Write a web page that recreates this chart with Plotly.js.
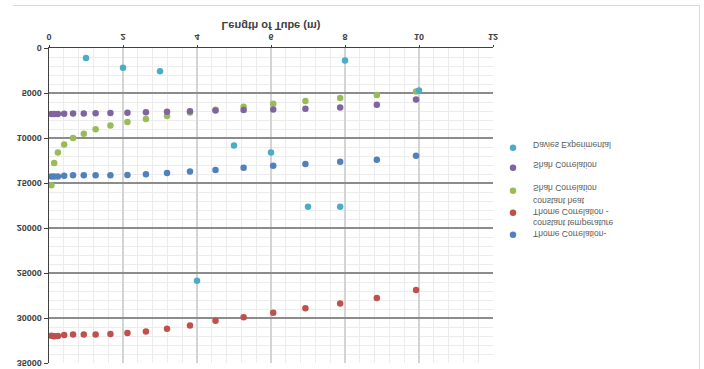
<!DOCTYPE html>
<html>
<head>
<meta charset="utf-8">
<script src="https://cdn.plot.ly/plotly-3.0.1.min.js"></script>
<style>
  html, body { margin: 0; padding: 0; background: #ffffff; }
  #wrap { position: relative; width: 704px; height: 369px; overflow: hidden; transform: scaleY(-1); transform-origin: 50% 50%; }
  #chart { position: absolute; left: 0; top: 0; width: 704px; height: 369px; }
  #frame { position: absolute; left: 13px; top: -2px; width: 686px; height: 365px;
           border-right: 1px solid #d9d9d9; border-bottom: 1px solid #d9d9d9; pointer-events: none; }
</style>
</head>
<body>
<div id="wrap">
  <div id="chart"></div>
  <div id="frame"></div>
</div>
<script>
// Correlation x positions (m)
const corrLength = [0.065, 0.14, 0.24, 0.41, 0.65, 0.94, 1.26, 1.66, 2.12, 2.62, 3.19, 3.81, 4.5, 5.26, 6.06, 6.93, 7.87, 8.86, 9.92];

// Series values
const thomeConstTemp = [14270, 14270, 14270, 14190, 14150, 14150, 14150, 14150, 14110, 14040, 13890, 13710, 13560, 13300, 13080, 12890, 12630, 12410, 11970];
const thomeConstHeat = [31970, 32040, 32000, 31890, 31820, 31820, 31820, 31780, 31670, 31490, 31190, 30820, 30300, 29930, 29410, 28930, 28380, 27780, 26890];
const shahGreen = [15260, 12780, 11600, 10710, 10000, 9520, 9040, 8600, 8230, 7890, 7560, 7180, 6860, 6520, 6190, 5890, 5560, 5230, 4820];
const shahPurple = [7340, 7340, 7320, 7300, 7290, 7270, 7240, 7220, 7190, 7150, 7090, 7040, 6950, 6900, 6820, 6740, 6600, 6300, 5710];

const daviesLength = [1, 2, 3, 4, 5, 6, 7, 7.87, 8, 10];
const daviesValues = [1110, 2190, 2590, 25860, 10820, 11600, 17630, 17630, 1380, 4710];

// Labels
const seriesNames = [
  "Thome Correlation-<br>constant temperature",
  "Thome Correlation -<br>constant heat",
  "Shah Correlation",
  "Shah Correlation",
  "Davies Experimental"
];
const seriesColors = ["#4F81BD", "#C0504D", "#9BBB59", "#8064A2", "#4BACC6"];
const xTitle = "Length of Tube (m)";

const legendIds = ["legend", "legend2", "legend3", "legend4", "legend5"];
const legendTops = [0.631, 0.561, 0.491, 0.418, 0.3546];

const ys = [thomeConstTemp, thomeConstHeat, shahGreen, shahPurple];
const traces = ys.map((y, i) => ({
  type: "scatter", mode: "markers", x: corrLength, y: y, name: seriesNames[i],
  legend: legendIds[i],
  marker: { color: seriesColors[i], size: 6.5 }
}));
traces.push({
  type: "scatter", mode: "markers", x: daviesLength, y: daviesValues, name: seriesNames[4],
  legend: legendIds[4],
  marker: { color: seriesColors[4], size: 6.5 }
});

const layout = {
  width: 704, height: 369,
  margin: { l: 49, r: 211, t: 6, b: 48 },
  paper_bgcolor: "rgba(0,0,0,0)",
  plot_bgcolor: "#ffffff",
  font: { family: "Liberation Sans, Arial, sans-serif", color: "#404040" },
  showlegend: true,
  xaxis: {
    range: [0, 12], dtick: 2, tick0: 0,
    showline: true, linecolor: "#404040", linewidth: 1.5,
    ticks: "outside", ticklen: 2, tickcolor: "#404040",
    showgrid: true, gridcolor: "#d4d4d4", gridwidth: 1.5,
    minor: { dtick: 0.4, showgrid: true, gridcolor: "#ececec", gridwidth: 1 },
    zeroline: false,
    tickfont: { size: 9, weight: "bold", color: "#404040" },
    title: { text: xTitle, font: { size: 11, weight: "bold", color: "#404040" }, standoff: 1 }
  },
  yaxis: {
    range: [0, 35000], dtick: 5000, tick0: 0, tickformat: "d",
    showline: true, linecolor: "#404040", linewidth: 1.5,
    ticks: "outside", ticklen: 4, tickcolor: "#404040",
    showgrid: true, gridcolor: "#8c8c8c", gridwidth: 1.5,
    minor: { dtick: 1000, showgrid: true, gridcolor: "#ececec", gridwidth: 1 },
    zeroline: false,
    tickfont: { size: 9, weight: "bold", color: "#404040" }
  }
};

legendIds.forEach((id, i) => {
  layout[id] = {
    x: 1.0, xanchor: "left", y: legendTops[i], yanchor: "top",
    valign: "top",
    font: { size: 8.5, color: "#595959" },
    bgcolor: "rgba(0,0,0,0)",
    itemwidth: 30
  };
});

Plotly.newPlot("chart", traces, layout, { staticPlot: true, displayModeBar: false });
</script>
</body>
</html>
